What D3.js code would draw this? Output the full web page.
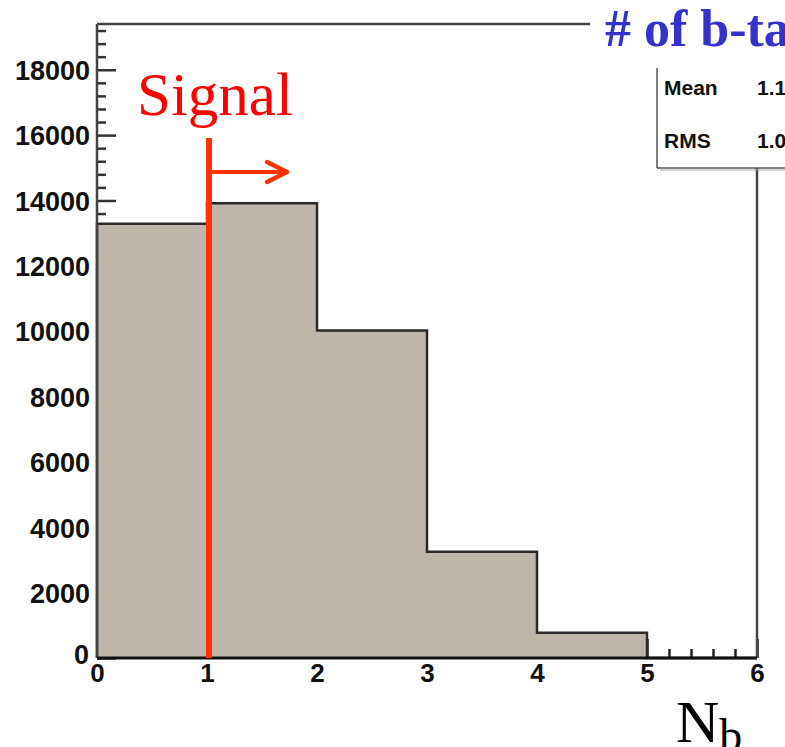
<!DOCTYPE html>
<html><head><meta charset="utf-8">
<script src="https://cdn.jsdelivr.net/npm/d3@7"></script>
<style>html,body{margin:0;padding:0;background:#fff;overflow:hidden}</style>
</head><body>
<svg id="c" width="785" height="747"></svg>
<script>
// ---- data ----
const binEdges = [0, 1, 2, 3, 4, 5, 6];
const counts = [13285, 13918, 10020, 3255, 775, 0];
const xTickValues = [0, 1, 2, 3, 4, 5, 6];
const yTickValues = [0, 2000, 4000, 6000, 8000, 10000, 12000, 14000, 16000, 18000];
const yMax = 19400;
const signalCut = 1;
const titleText = "# of b-tags";
const signalLabel = "Signal";

const svg = d3.select("#c");
const x = d3.scaleLinear().domain([0, 6]).range([97, 757]);
const y = d3.scaleLinear().domain([0, yMax]).range([658, 24]);

// minor ticks
const yMinor = d3.range(0, yMax + 1, 400).filter(v => v % 2000 !== 0);
const xMinor = d3.range(0, 6.001, 0.2).map(v => +v.toFixed(1)).filter(v => Math.abs(v - Math.round(v)) > 1e-6);

const tickFont = "Liberation Sans, Arial, sans-serif";
const gAx = svg.append("g");
// y minor
gAx.append("g").attr("transform", "translate(97,0)")
  .call(d3.axisLeft(y).tickValues(yMinor).tickSize(-9).tickFormat(""))
  .call(g => g.select(".domain").remove())
  .selectAll("line").attr("stroke", "#333").attr("stroke-width", 2.5);
// y major
const yAx = gAx.append("g").attr("transform", "translate(97,0)")
  .call(d3.axisLeft(y).tickValues(yTickValues).tickSize(-19).tickPadding(7).tickFormat(d3.format("d")));
yAx.select(".domain").remove();
yAx.selectAll("line").attr("stroke", "#333").attr("stroke-width", 2.5);
yAx.selectAll("text").attr("font-family", tickFont)
  .attr("font-weight", "bold").attr("font-size", 27).attr("fill", "#111").attr("dy", "0.36em");
yAx.selectAll(".tick").filter(d => d === 0).select("text").attr("dy", "0.2em").attr("x", -8);

// x minor
gAx.append("g").attr("transform", "translate(0,658)")
  .call(d3.axisBottom(x).tickValues(xMinor).tickSize(-9).tickFormat(""))
  .call(g => g.select(".domain").remove())
  .selectAll("line").attr("stroke", "#222").attr("stroke-width", 2.5);
// x major
const xAx = gAx.append("g").attr("transform", "translate(0,658)")
  .call(d3.axisBottom(x).tickValues(xTickValues).tickSize(-19).tickFormat(d3.format("d")));
xAx.select(".domain").remove();
xAx.selectAll("line").attr("stroke", "#222").attr("stroke-width", 2.5);
xAx.selectAll("text").attr("font-family", tickFont)
  .attr("font-weight", "bold").attr("font-size", 26).attr("fill", "#111")
  .attr("y", 24).attr("dy", 0);

// histogram
const bins = counts.map((c, i) => ({x0: binEdges[i], x1: binEdges[i + 1], c}));
svg.append("g").selectAll("rect").data(bins).join("rect")
  .attr("x", d => x(d.x0)).attr("width", d => x(d.x1) - x(d.x0))
  .attr("y", d => y(d.c)).attr("height", d => y(0) - y(d.c))
  .attr("fill", "#bfb6ab");
const pts = [[binEdges[0], 0]];
bins.forEach(b => { pts.push([b.x0, b.c]); pts.push([b.x1, b.c]); });
pts.push([binEdges[binEdges.length - 1], 0]);
svg.append("path").datum(pts)
  .attr("d", d3.line().x(d => x(d[0])).y(d => y(d[1])))
  .attr("fill", "none").attr("stroke", "#2a2a2a").attr("stroke-width", 2.5);

// frame
const frame = svg.append("g").attr("stroke", "#444").attr("fill", "none");
frame.append("line").attr("x1", x(0)).attr("x2", x(6)).attr("y1", y(yMax)).attr("y2", y(yMax)).attr("stroke-width", 2.5);
frame.append("line").attr("x1", x(0)).attr("x2", x(0)).attr("y1", y(yMax)).attr("y2", y(0)).attr("stroke-width", 2.5);
frame.append("line").attr("x1", x(6)).attr("x2", x(6)).attr("y1", y(yMax)).attr("y2", y(0)).attr("stroke-width", 2.5);
frame.append("line").attr("x1", x(0)).attr("x2", x(6)).attr("y1", y(0)).attr("y2", y(0)).attr("stroke", "#111").attr("stroke-width", 3);

// stats
const N = d3.sum(counts);
const mean = d3.sum(bins, b => b.c * b.x0) / N;
const m2 = d3.sum(bins, b => b.c * b.x0 * b.x0) / N;
const rms = Math.sqrt(m2 - mean * mean);
svg.append("rect").attr("x", 657).attr("y", 60).attr("width", 140).attr("height", 108)
  .attr("fill", "#fff").attr("stroke", "none");
svg.append("line").attr("x1", 657).attr("x2", 657).attr("y1", 68).attr("y2", 168).attr("stroke", "#555").attr("stroke-width", 1.5);
svg.append("line").attr("x1", 657).attr("x2", 785).attr("y1", 168).attr("y2", 168).attr("stroke", "#555").attr("stroke-width", 1.5);
svg.append("line").attr("x1", 660).attr("x2", 785).attr("y1", 170).attr("y2", 170).attr("stroke", "#aaa").attr("stroke-width", 1);
svg.append("text").attr("x", 664).attr("y", 95).attr("font-family", tickFont).attr("font-weight", "bold")
  .attr("font-size", 21).attr("fill", "#111").text("Mean");
svg.append("text").attr("x", 757).attr("y", 95).attr("font-family", tickFont).attr("font-weight", "bold")
  .attr("font-size", 21).attr("fill", "#111").text(mean.toFixed(3));
svg.append("text").attr("x", 664).attr("y", 148).attr("font-family", tickFont).attr("font-weight", "bold")
  .attr("font-size", 21).attr("fill", "#111").text("RMS");
svg.append("text").attr("x", 757).attr("y", 148).attr("font-family", tickFont).attr("font-weight", "bold")
  .attr("font-size", 21).attr("fill", "#111").text(rms.toFixed(3));

// title
svg.append("rect").attr("x", 590).attr("y", 0).attr("width", 195).attr("height", 62).attr("fill", "#fff");
svg.append("text").attr("x", 605).attr("y", 46).attr("font-family", "Liberation Serif, Times New Roman, serif")
  .attr("font-weight", "bold").attr("font-size", 52).attr("fill", "#3333cc").text(titleText);

// signal line & arrow
const red = "#ff3300";
svg.append("line").attr("x1", x(signalCut) + 2).attr("x2", x(signalCut) + 2).attr("y1", 138).attr("y2", y(0))
  .attr("stroke", red).attr("stroke-width", 6);
svg.append("line").attr("x1", x(signalCut)).attr("x2", 287).attr("y1", 172).attr("y2", 172)
  .attr("stroke", red).attr("stroke-width", 4);
svg.append("path").attr("d", "M267,162 L287,172 L267,182").attr("fill", "none")
  .attr("stroke", red).attr("stroke-width", 4.5).attr("stroke-linecap", "round").attr("stroke-linejoin", "round");
svg.append("text").attr("x", 137).attr("y", 115).attr("font-family", "Liberation Serif, Times New Roman, serif")
  .attr("font-size", 61).attr("fill", "#ff0000").text(signalLabel);

// x label
const xl = svg.append("text").attr("x", 676).attr("y", 742).attr("font-family", "Liberation Serif, Times New Roman, serif")
  .attr("font-size", 60).attr("fill", "#000");
xl.append("tspan").text("N");
xl.append("tspan").attr("font-size", 46).attr("dy", 9).text("b");
</script>
</body></html>
